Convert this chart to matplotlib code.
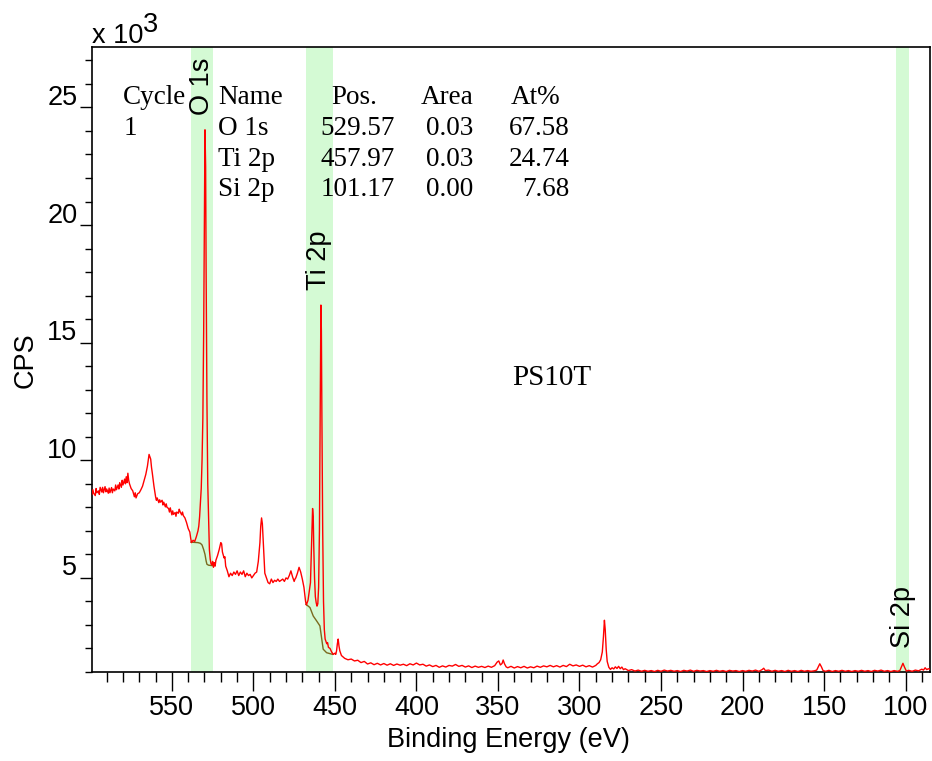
import matplotlib
matplotlib.use("Agg")
import matplotlib.pyplot as plt
import numpy as np
from matplotlib.ticker import MultipleLocator, FixedLocator
from matplotlib.transforms import ScaledTranslation

# survey spectrum: (binding energy eV, counts x 10^3)
survey = [
    (599, 8.55), (598.5, 8.75), (598, 8.60), (597, 8.50), (596.5, 8.80), (596, 8.62), (595, 8.70),
    (594.5, 8.55), (594, 8.85), (593, 8.65), (592.5, 8.85), (592, 8.62), (591, 8.88), (590.5, 8.66),
    (590, 8.78), (589, 8.60), (588.5, 8.82), (588, 8.62), (587, 8.84), (586.5, 8.62), (586, 8.78),
    (585, 8.70), (584.5, 8.95), (584, 8.75), (583, 8.95), (582.5, 8.78), (582, 9.05), (581, 8.85),
    (580.5, 9.15), (580, 8.95), (579, 9.20), (578.5, 9.00), (578, 9.30), (577.5, 9.05), (577, 9.45),
    (576.5, 9.15), (576, 9.00), (575, 8.80), (574, 8.70), (573, 8.45), (572.5, 8.62), (572, 8.40),
    (571, 8.58), (570, 8.62), (569, 8.75), (568, 8.90), (567, 9.15), (566, 9.40), (565, 9.75),
    (564, 10.25), (563.5, 10.15), (563, 10.05), (562.5, 9.70), (562, 9.45), (561, 8.90),
    (560, 8.45), (559.5, 8.30), (559, 8.40), (558, 8.20), (557.5, 8.32), (557, 8.22), (556, 8.30),
    (555.5, 8.10), (555, 8.22), (554, 8.02), (553.5, 8.15), (553, 8.00), (552, 7.95), (551.5, 7.80),
    (551, 7.98), (550, 7.68), (549.5, 7.85), (549, 7.70), (548, 7.78), (547.5, 7.62), (547, 7.80),
    (546, 7.75), (545.5, 7.92), (545, 7.82), (544, 7.68), (543.5, 7.80), (543, 7.65), (542, 7.55),
    (541, 7.35), (540, 7.10), (539, 6.95), (538.5, 6.70), (538, 6.50), (537, 6.60), (536, 6.55),
    (535, 6.75), (534, 7.00), (533.5, 7.20), (533, 7.60), (532.5, 8.20), (532, 8.80),
    (531.5, 10.0), (531, 11.8), (530.5, 15.5), (530, 21.0), (529.7, 24.05), (529.3, 22.5),
    (529, 18.0), (528.5, 12.5), (528, 9.0), (527.5, 7.5), (527, 6.2), (526.5, 5.8), (526, 5.6),
    (525.5, 5.55), (525, 5.70), (524.5, 5.45), (524, 5.65), (523.5, 5.50), (523, 5.75),
    (522, 5.95), (521, 6.20), (520, 6.50), (519.5, 6.45), (519, 6.10), (518, 5.85),
    (517.5, 5.90), (517, 5.50), (516, 5.30), (515, 5.05), (514, 5.20), (513, 5.10), (512, 5.25),
    (511, 5.15), (510, 5.30), (509, 5.10), (508, 5.25), (507, 5.15), (506, 5.30), (505, 5.05),
    (504, 5.20), (503, 5.10), (502, 5.15), (501, 5.00), (500, 5.10), (499, 5.20), (498, 5.25),
    (497, 5.70), (496, 6.50), (495.5, 7.20), (495, 7.55), (494.5, 7.30), (494, 6.60),
    (493.5, 5.90), (493, 5.20), (492, 5.00), (491, 4.80), (490, 4.75), (489, 4.95), (488, 4.80),
    (487, 4.90), (486, 4.85), (485, 4.95), (484, 4.85), (483, 4.90), (482, 4.95), (481, 4.85),
    (480, 5.00), (479, 4.95), (478, 5.10), (477, 5.30), (476, 5.05), (475, 4.85), (474.5, 4.95),
    (474, 5.00), (473, 5.20), (472, 5.45), (471, 5.25), (470, 4.95), (469, 4.60), (468, 4.00),
    (467.5, 3.85), (467, 3.95), (466.5, 4.05), (466, 4.30), (465, 4.80), (464.5, 6.00),
    (464, 7.20), (463.7, 7.95), (463.3, 7.60), (463, 6.40), (462.5, 5.00), (462, 4.20),
    (461.5, 3.95), (461, 3.80), (460.5, 3.90), (460, 4.60), (459.5, 7.00), (459, 12.0),
    (458.6, 16.6), (458.3, 15.5), (458, 12.0), (457.5, 7.0), (457, 4.0), (456.5, 2.8),
    (456, 2.40), (455.5, 2.30), (455, 2.20), (454.5, 2.25), (454, 2.05), (453, 2.00),
    (452, 1.85), (451, 1.75), (450, 1.80), (449.5, 1.75), (449, 1.90), (448.5, 2.20),
    (448, 2.40), (447.5, 2.10), (447, 1.90), (446, 1.70), (444, 1.58), (442, 1.52), (440, 1.55),
    (438, 1.47), (436, 1.50), (434, 1.40), (432, 1.45), (430, 1.34), (428, 1.39), (426, 1.31),
    (424, 1.37), (422, 1.30), (420, 1.36), (418, 1.29), (416, 1.35), (414, 1.28), (412, 1.34),
    (410, 1.29), (408, 1.33), (406, 1.27), (404, 1.35), (402, 1.30), (400, 1.38), (398, 1.30),
    (396, 1.33), (394, 1.25), (392, 1.30), (390, 1.23), (388, 1.28), (386, 1.20), (384, 1.26),
    (382, 1.21), (380, 1.28), (378, 1.25), (376, 1.32), (374, 1.24), (372, 1.28), (370, 1.21),
    (368, 1.26), (366, 1.19), (364, 1.25), (362, 1.20), (360, 1.24), (358, 1.19), (356, 1.25),
    (354, 1.20), (352, 1.27), (350.5, 1.42), (349.5, 1.47), (348.5, 1.30), (347.5, 1.36),
    (346.8, 1.51), (346, 1.35), (345, 1.22), (344, 1.18), (342, 1.24), (340, 1.17), (338, 1.23),
    (336, 1.18), (334, 1.24), (332, 1.17), (330, 1.22), (328, 1.18), (326, 1.25), (324, 1.20),
    (322, 1.26), (320, 1.22), (318, 1.28), (316, 1.22), (314, 1.27), (312, 1.21), (310, 1.28),
    (308, 1.23), (306, 1.33), (304, 1.26), (302, 1.30), (300, 1.24), (298, 1.29), (296, 1.22),
    (294, 1.27), (292, 1.21), (290, 1.28), (289, 1.35), (288, 1.40), (287, 1.52), (286, 1.85),
    (285.3, 2.50), (284.7, 3.20), (284.2, 2.80), (283.6, 1.95), (283, 1.45), (282, 1.20),
    (281, 1.11), (280, 1.18), (279, 1.13), (278, 1.22), (277, 1.15), (276, 1.24), (275, 1.14),
    (274, 1.21), (273, 1.10), (272, 1.14), (270, 1.06), (268, 1.10), (266, 1.04), (264, 1.08),
    (262, 1.03), (260, 1.07), (258, 1.03), (256, 1.06), (254, 1.02), (252, 1.07), (250, 1.03),
    (248, 1.08), (246, 1.04), (244, 1.07), (242, 1.03), (240, 1.06), (238, 1.02), (236, 1.07),
    (234, 1.04), (232, 1.08), (230, 1.03), (228, 1.07), (226, 1.04), (224, 1.06), (222, 1.02),
    (220, 1.06), (218, 1.03), (216, 1.07), (214, 1.03), (212, 1.06), (210, 1.02), (208, 1.07),
    (206, 1.04), (204, 1.06), (202, 1.02), (200, 1.06), (198, 1.03), (196, 1.07), (194, 1.04),
    (192, 1.08), (190, 1.03), (188, 1.10), (187, 1.16), (186, 1.06), (184, 1.08), (182, 1.03),
    (180, 1.07), (178, 1.03), (176, 1.06), (174, 1.02), (172, 1.07), (170, 1.03), (168, 1.06),
    (166, 1.02), (164, 1.07), (162, 1.03), (160, 1.06), (158, 1.03), (156, 1.05), (154.5, 1.08),
    (153.5, 1.22), (152.6, 1.35), (151.6, 1.22), (150.6, 1.06), (149, 1.03), (147, 1.07),
    (145, 1.02), (143, 1.06), (141, 1.03), (139, 1.07), (137, 1.03), (135, 1.06), (133, 1.02),
    (131, 1.06), (129, 1.03), (127, 1.07), (125, 1.03), (123, 1.06), (121, 1.02), (119, 1.07),
    (117, 1.04), (115, 1.08), (113, 1.03), (111, 1.06), (109, 1.02), (107, 1.06), (105, 1.03),
    (103.5, 1.06), (102.5, 1.22), (101.6, 1.37), (100.6, 1.20), (99.5, 1.04), (98, 1.07),
    (96, 1.03), (94, 1.08), (92, 1.05), (90, 1.12), (89, 1.08), (88, 1.18), (87, 1.10),
    (86, 1.14), (85, 1.11),
]

# Shirley backgrounds under the quantified peaks
bg_o1s = [(538.3, 6.52), (534, 6.50), (532.5, 6.47), (531.5, 6.40), (530.5, 6.20),
          (529.7, 6.00), (529, 5.72), (528.5, 5.58), (527.5, 5.54), (525, 5.52)]
bg_ti2p = [(467.8, 3.88), (465.3, 3.74), (463.3, 3.38), (461.2, 3.17), (459.2, 2.96),
           (458.2, 2.46), (457.2, 1.97), (455.1, 1.82), (451.4, 1.75)]

# quantification regions (eV) and table
regions = {"O 1s": (538.3, 524.8), "Ti 2p": (467.8, 451.4), "Si 2p": (105.6, 97.9)}
names = ["O 1s", "Ti 2p", "Si 2p"]
positions = ["529.57", "457.97", "101.17"]
areas = ["0.03", "0.03", "0.00"]
at_pct = ["67.58", "24.74", "7.68"]

W, H = 932, 761
fig = plt.figure(figsize=(W / 100, H / 100), dpi=100)
ax = fig.add_axes([92 / W, 1 - 672 / H, 838 / W, 625 / H])

sans = "Liberation Sans"
serif = "Liberation Serif"
band_color = "#d4fad4"

be = np.array([p[0] for p in survey])
kcps = np.array([p[1] for p in survey])

for name, (hi, lo) in regions.items():
    ax.axvspan(lo, hi, color=band_color, lw=0, zorder=0)

ax.plot([p[0] for p in bg_o1s], [p[1] for p in bg_o1s], color="#7a6a1e", lw=1.0, zorder=2)
ax.plot([p[0] for p in bg_ti2p], [p[1] for p in bg_ti2p], color="#7a6a1e", lw=1.0, zorder=2)
ax.plot(be, kcps, color="red", lw=1.0, zorder=3)

# region labels sit just above the highest point inside each band
for name, (hi, lo) in regions.items():
    inside = (be <= hi) & (be >= lo)
    ax.annotate(name, xy=((hi + lo) / 2, kcps[inside].max()), xytext=(0, 11),
                textcoords="offset points", rotation=90, ha="center", va="bottom",
                fontsize=19.5, family=sans)

ax.set_xlim(599, 85)
ax.set_ylim(1.0, 27.57)

ax.xaxis.set_major_locator(FixedLocator([550, 500, 450, 400, 350, 300, 250, 200, 150, 100]))
ax.xaxis.set_minor_locator(MultipleLocator(10))
ax.yaxis.set_major_locator(FixedLocator([5, 10, 15, 20, 25]))
ax.yaxis.set_minor_locator(MultipleLocator(1))
ax.set_xticklabels(["550", "500", "450", "400", "350", "300", "250", "200", "150", "100"])
ax.set_yticklabels(["5", "10", "15", "20", "25"])

ax.tick_params(axis="x", which="major", length=14, width=1.0, pad=2.5, labelsize=19.5)
ax.tick_params(axis="x", which="minor", length=7.2, width=1.0)
ax.tick_params(axis="y", which="major", length=8.6, width=1.0, pad=2, labelsize=19.5)
ax.tick_params(axis="y", which="minor", length=5, width=1.0)
for lab in ax.get_xticklabels() + ax.get_yticklabels():
    lab.set_family(sans)
shift = ScaledTranslation(0, 2.5 / 100, fig.dpi_scale_trans)
for lab in ax.get_yticklabels():
    lab.set_va("baseline")
    lab.set_transform(lab.get_transform() + shift)

for sp in ax.spines.values():
    sp.set_linewidth(1.2)

fig.text(508 / W, 1 - 740 / H, "Binding Energy (eV)", ha="center", va="center",
         fontsize=19.5, family=sans)
fig.text(26 / W, 1 - 360 / H, "CPS", ha="center", va="center", rotation=90,
         fontsize=19.5, family=sans)
fig.text(92 / W, 1 - 43 / H, "x 10", ha="left", va="baseline", fontsize=19.5, family=sans)
fig.text(143 / W, 1 - 32 / H, "3", ha="left", va="baseline", fontsize=19.5, family=sans)

# quantification table
row_y = [104.5, 135, 165.5, 195.5]
fs = 19.5
fig.text(123 / W, 1 - row_y[0] / H, "Cycle", fontsize=fs, family=serif, va="baseline")
fig.text(124 / W, 1 - row_y[1] / H, "1", fontsize=fs, family=serif, va="baseline")
fig.text(218 / W, 1 - row_y[0] / H, "Name", fontsize=fs, family=serif, va="baseline")
fig.text(331 / W, 1 - row_y[0] / H, "Pos.", fontsize=fs, family=serif, va="baseline")
fig.text(421 / W, 1 - row_y[0] / H, "Area", fontsize=fs, family=serif, va="baseline")
fig.text(511 / W, 1 - row_y[0] / H, "At%", fontsize=fs, family=serif, va="baseline")
for i in range(3):
    y = 1 - row_y[i + 1] / H
    fig.text(218 / W, y, names[i], fontsize=fs, family=serif, va="baseline")
    fig.text(395 / W, y, positions[i], fontsize=fs, family=serif, va="baseline", ha="right")
    fig.text(473 / W, y, areas[i], fontsize=fs, family=serif, va="baseline", ha="right")
    fig.text(570 / W, y, at_pct[i], fontsize=fs, family=serif, va="baseline", ha="right")

fig.text(552 / W, 1 - 378 / H, "PS10T", fontsize=21, family=serif, ha="center", va="center")

fig.savefig("out.png", dpi=100)
